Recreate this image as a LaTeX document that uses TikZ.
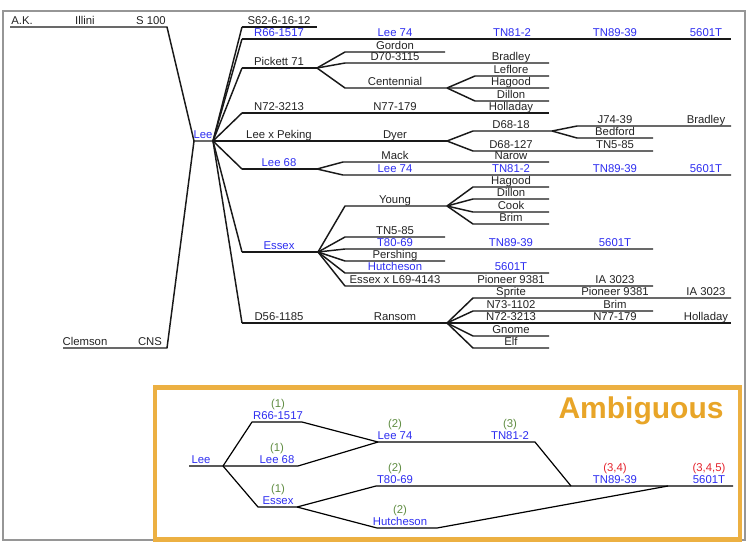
\documentclass[tikz,border=0pt]{standalone}
\usepackage{fontspec}
\setmainfont{Liberation Sans}
\definecolor{txt}{RGB}{35,35,35}
\definecolor{lblue}{RGB}{45,45,240}
\definecolor{lgreen}{RGB}{95,140,65}
\definecolor{lred}{RGB}{228,35,45}
\definecolor{gold}{RGB}{236,176,66}
\definecolor{goldtxt}{RGB}{232,165,40}
\definecolor{framegray}{RGB}{150,150,150}
\begin{document}
\begin{tikzpicture}[x=0.75pt,y=-0.75pt,
  tline/.style={draw=black!90, line width=1.1pt, line join=round},
  bline/.style={draw=black, line width=0.9pt, line join=round},
  lab/.style={font=\fontsize{8.5}{10}\selectfont, text=txt, inner sep=0pt, anchor=base},
  blab/.style={lab, text=lblue},
  glab/.style={lab, text=lgreen},
  rlab/.style={lab, text=lred}]
\useasboundingbox (0,0) rectangle (750,551);
\draw[framegray, line width=1pt] (3,11) rectangle (745,540);

% ---------- main tree coordinates ----------
\coordinate (ak0) at (10,27);   \coordinate (ak1) at (167,27);
\coordinate (cl0) at (63,348);  \coordinate (cl1) at (167,348);
\coordinate (le0) at (194,141); \coordinate (le1) at (213,141);
\coordinate (s62a) at (242,27); \coordinate (s62b) at (317,27);
\coordinate (r66a) at (242,39); \coordinate (r66b) at (731,39);
\coordinate (pka) at (242,68);  \coordinate (pkb) at (317,68);
\coordinate (goa) at (345,52);  \coordinate (gob) at (445,52);
\coordinate (d70a) at (345,63); \coordinate (d70b) at (549,63);
\coordinate (cea) at (345,88);  \coordinate (ceb) at (447,88);
\coordinate (lfa) at (475,76);  \coordinate (lfb) at (549,76);
\coordinate (hg1b) at (549,88);
\coordinate (dl1a) at (475,101); \coordinate (dl1b) at (549,101);
\coordinate (n72a) at (242,113); \coordinate (n72b) at (549,113);
\coordinate (lxpb) at (447,141);
\coordinate (d18a) at (473,131); \coordinate (d18b) at (552,131);
\coordinate (j74a) at (577,126); \coordinate (j74b) at (731,126);
\coordinate (bda) at (577,138);  \coordinate (bdb) at (653,138);
\coordinate (d127a) at (473,151); \coordinate (d127b) at (653,151);
\coordinate (l68a) at (242,169); \coordinate (l68b) at (317,169);
\coordinate (mka) at (343,162);  \coordinate (mkb) at (549,162);
\coordinate (l74a) at (343,175); \coordinate (l74b) at (731,175);
\coordinate (esa) at (242,252);  \coordinate (esb) at (318,252);
\coordinate (yga) at (345,206);  \coordinate (ygb) at (447,206);
\coordinate (hg2a) at (473,187); \coordinate (hg2b) at (549,187);
\coordinate (dl2a) at (473,199); \coordinate (dl2b) at (549,199);
\coordinate (cka) at (473,212);  \coordinate (ckb) at (549,212);
\coordinate (bra) at (473,224);  \coordinate (brb) at (549,224);
\coordinate (tn5a) at (345,237); \coordinate (tn5b) at (445,237);
\coordinate (t80a) at (345,249); \coordinate (t80b) at (653,249);
\coordinate (pea) at (345,261);  \coordinate (peb) at (445,261);
\coordinate (hua) at (345,273);  \coordinate (hub) at (549,273);
\coordinate (exa) at (345,286);  \coordinate (exb) at (653,286);
\coordinate (d56a) at (242,323); \coordinate (d56b) at (447,323);
\coordinate (spa) at (473,298);  \coordinate (spb) at (731,298);
\coordinate (n73a) at (473,311); \coordinate (n73b) at (653,311);
\coordinate (n72cb) at (731,323);
\coordinate (gna) at (473,336);  \coordinate (gnb) at (549,336);
\coordinate (elfa) at (473,348); \coordinate (elfb) at (549,348);

% ---------- main tree lines ----------
\draw[tline] (ak0) -- (ak1) -- (le0) -- (le1);
\draw[tline] (cl0) -- (cl1) -- (le0);
\foreach \t in {s62a,r66a,pka,n72a,l68a,esa,d56a} \draw[tline] (le1) -- (\t);
\draw[tline] (s62a) -- (s62b);
\draw[tline] (r66a) -- (r66b);
\draw[tline] (pka) -- (pkb);
\draw[tline] (pkb) -- (goa) -- (gob);
\draw[tline] (pkb) -- (d70a) -- (d70b);
\draw[tline] (pkb) -- (cea) -- (ceb) -- (hg1b);
\draw[tline] (ceb) -- (lfa) -- (lfb);
\draw[tline] (ceb) -- (dl1a) -- (dl1b);
\draw[tline] (n72a) -- (n72b);
\draw[tline] (le1) -- (lxpb);
\draw[tline] (lxpb) -- (d18a) -- (d18b);
\draw[tline] (d18b) -- (j74a) -- (j74b);
\draw[tline] (d18b) -- (bda) -- (bdb);
\draw[tline] (lxpb) -- (d127a) -- (d127b);
\draw[tline] (l68a) -- (l68b);
\draw[tline] (l68b) -- (mka) -- (mkb);
\draw[tline] (l68b) -- (l74a) -- (l74b);
\draw[tline] (esa) -- (esb);
\draw[tline] (esb) -- (yga) -- (ygb);
\foreach \a/\b in {hg2a/hg2b,dl2a/dl2b,cka/ckb,bra/brb} \draw[tline] (ygb) -- (\a) -- (\b);
\foreach \a/\b in {tn5a/tn5b,t80a/t80b,pea/peb,hua/hub,exa/exb} \draw[tline] (esb) -- (\a) -- (\b);
\draw[tline] (d56a) -- (d56b) -- (n72cb);
\foreach \a/\b in {spa/spb,n73a/n73b,gna/gnb,elfa/elfb} \draw[tline] (d56b) -- (\a) -- (\b);

% ---------- main tree labels ----------
\node[lab] (tAK) at (22,24.5) {A.K.};
\node[lab] (tIll) at (85,24.5) {Illini};
\node[lab] (tS100) at (151,24.5) {S 100};
\node[lab] (tCle) at (85,345.5) {Clemson};
\node[lab] (tCNS) at (150,345.5) {CNS};
\node[blab] (tLee) at (203,138.5) {Lee};
\node[lab] (tS62) at (279,24.5) {S62-6-16-12};
\node[blab] (tR66) at (279,36.5) {R66-1517};
\node[blab] (tR66b) at (395,36.5) {Lee 74};
\node[blab] (tR66c) at (512,36.5) {TN81-2};
\node[blab] (tR66d) at (615,36.5) {TN89-39};
\node[blab] (tR66e) at (706,36.5) {5601T};
\node[lab] (tPk) at (279,65.5) {Pickett 71};
\node[lab] (tGo) at (395,49.5) {Gordon};
\node[lab] (tD70) at (395,60.5) {D70-3115};
\node[lab] (tBr1) at (511,60.5) {Bradley};
\node[lab] (tCe) at (395,85.5) {Centennial};
\node[lab] (tLf) at (511,73.5) {Leflore};
\node[lab] (tHg1) at (511,85.5) {Hagood};
\node[lab] (tDl1) at (511,98.5) {Dillon};
\node[lab] (tN72) at (279,110.5) {N72-3213};
\node[lab] (tN77) at (395,110.5) {N77-179};
\node[lab] (tHo1) at (511,110.5) {Holladay};
\node[lab] (tLxP) at (279,138.5) {Lee x Peking};
\node[lab] (tDy) at (395,138.5) {Dyer};
\node[lab] (tD18) at (511,128.5) {D68-18};
\node[lab] (tJ74) at (615,123.5) {J74-39};
\node[lab] (tBr2) at (706,123.5) {Bradley};
\node[lab] (tBd) at (615,135.5) {Bedford};
\node[lab] (tD127) at (511,148.5) {D68-127};
\node[lab] (tTN5a) at (615,148.5) {TN5-85};
\node[blab] (tL68) at (279,166.5) {Lee 68};
\node[lab] (tMk) at (395,159.5) {Mack};
\node[lab] (tNa) at (511,159.5) {Narow};
\node[blab] (tL74) at (395,172.5) {Lee 74};
\node[blab] (tL74b) at (511,172.5) {TN81-2};
\node[blab] (tL74c) at (615,172.5) {TN89-39};
\node[blab] (tL74d) at (706,172.5) {5601T};
\node[blab] (tEs) at (279,249.5) {Essex};
\node[lab] (tYg) at (395,203.5) {Young};
\node[lab] (tHg2) at (511,184.5) {Hagood};
\node[lab] (tDl2) at (511,196.5) {Dillon};
\node[lab] (tCk) at (511,209.5) {Cook};
\node[lab] (tBm1) at (511,221.5) {Brim};
\node[lab] (tTN5b) at (395,234.5) {TN5-85};
\node[blab] (tT80) at (395,246.5) {T80-69};
\node[blab] (tT80b) at (511,246.5) {TN89-39};
\node[blab] (tT80c) at (615,246.5) {5601T};
\node[lab] (tPe) at (395,258.5) {Pershing};
\node[blab] (tHu) at (395,270.5) {Hutcheson};
\node[blab] (tHub) at (511,270.5) {5601T};
\node[lab] (tEx) at (395,283.5) {Essex x L69-4143};
\node[lab] (tPi1) at (511,283.5) {Pioneer 9381};
\node[lab] (tIA1) at (615,283.5) {IA 3023};
\node[lab] (tD56) at (279,320.5) {D56-1185};
\node[lab] (tRa) at (395,320.5) {Ransom};
\node[lab] (tSp) at (511,295.5) {Sprite};
\node[lab] (tPi2) at (615,295.5) {Pioneer 9381};
\node[lab] (tIA2) at (706,295.5) {IA 3023};
\node[lab] (tN73) at (511,308.5) {N73-1102};
\node[lab] (tBm2) at (615,308.5) {Brim};
\node[lab] (tN72b) at (511,320.5) {N72-3213};
\node[lab] (tN77b) at (615,320.5) {N77-179};
\node[lab] (tHo2) at (706,320.5) {Holladay};
\node[lab] (tGn) at (511,333.5) {Gnome};
\node[lab] (tElf) at (511,345.5) {Elf};

% ---------- Ambiguous box ----------
\draw[gold, line width=3.6pt] (155,387.5) rectangle (740,539.5);
\node[font=\fontsize{22.5}{26}\selectfont\bfseries, text=goldtxt, inner sep=0pt, anchor=base] (amb) at (641,418) {Ambiguous};

\coordinate (bl0) at (189,466);  \coordinate (bl1) at (223,466);
\coordinate (br66a) at (252,422); \coordinate (br66b) at (302,422);
\coordinate (bl68b) at (298,466);
\coordinate (besa) at (258,507); \coordinate (besb) at (297,507);
\coordinate (bl74a) at (378,442); \coordinate (btn81b) at (535,442);
\coordinate (bt80a) at (376,486); \coordinate (bt80b) at (733,486);
\coordinate (bhua) at (377,528); \coordinate (bhub) at (437,528);
\coordinate (bj89) at (571,486); \coordinate (bj56) at (668,486);

\draw[bline] (bl0) -- (bl1) -- (bl68b) -- (bl74a);
\draw[bline] (bl1) -- (br66a) -- (br66b) -- (bl74a);
\draw[bline] (bl1) -- (besa) -- (besb) -- (bt80a) -- (bt80b);
\draw[bline] (besb) -- (bhua) -- (bhub) -- (bj56);
\draw[bline] (bl74a) -- (btn81b) -- (bj89);

\node[blab] (bLee) at (201,463.5) {Lee};
\node[blab] (bR66) at (278,419.5) {R66-1517};
\node[glab] (bR66n) at (278,407) {(1)};
\node[blab] (bL68) at (277,463.5) {Lee 68};
\node[glab] (bL68n) at (277,451) {(1)};
\node[blab] (bEs) at (278,504.5) {Essex};
\node[glab] (bEsn) at (278,492) {(1)};
\node[blab] (bL74) at (395,439.5) {Lee 74};
\node[glab] (bL74n) at (395,427) {(2)};
\node[blab] (bT80) at (395,483.5) {T80-69};
\node[glab] (bT80n) at (395,471) {(2)};
\node[blab] (bHu) at (400,525.5) {Hutcheson};
\node[glab] (bHun) at (400,513) {(2)};
\node[blab] (bTN81) at (510,439.5) {TN81-2};
\node[glab] (bTN81n) at (510,427) {(3)};
\node[blab] (bTN89) at (615,483.5) {TN89-39};
\node[rlab] (bTN89n) at (615,471) {(3,4)};
\node[blab] (b56) at (709,483.5) {5601T};
\node[rlab] (b56n) at (709,471) {(3,4,5)};
\end{tikzpicture}
\end{document}
